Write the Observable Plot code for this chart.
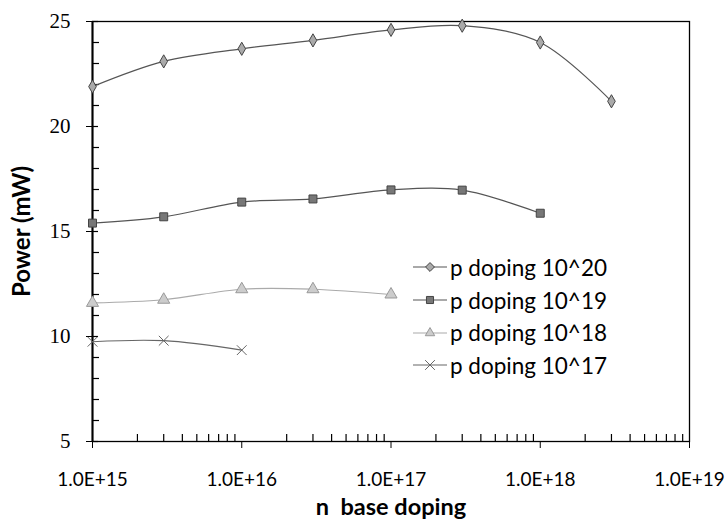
<!DOCTYPE html>
<html><head><meta charset="utf-8">
<script src="https://cdn.jsdelivr.net/npm/d3@7"></script>
<script src="https://cdn.jsdelivr.net/npm/@observablehq/plot@0.6"></script>
<style>
body{margin:0;background:#fff;font-family:Lato,"Open Sans",sans-serif;}
#wrap{position:relative;width:727px;height:528px;}
#legend{position:absolute;left:411px;top:251px;font-family:Lato,sans-serif;font-size:22.5px;color:#000;}
#legend .row{height:32.7px;display:flex;align-items:center;}
#legend svg{margin-right:1px;}
</style></head>
<body><div id="wrap"></div>
<script>
const nDoping = [1e15, 3e15, 1e16, 3e16, 1e17, 3e17, 1e18, 3e18];
const seriesNames = ["p doping 10^20", "p doping 10^19", "p doping 10^18", "p doping 10^17"];
const p20 = [21.9, 23.1, 23.7, 24.1, 24.6, 24.8, 24.0, 21.2];
const p19 = [15.4, 15.7, 16.4, 16.55, 16.98, 16.97, 15.87];
const p18 = [11.6, 11.75, 12.25, 12.25, 12.0];
const p17 = [9.75, 9.8, 9.35];
const xTicks = [1e15, 1e16, 1e17, 1e18, 1e19];
const xTickLabels = ["1.0E+15", "1.0E+16", "1.0E+17", "1.0E+18", "1.0E+19"];
const yTicks = [5, 10, 15, 20, 25];

const styles = [
  {symbol: "diamond", stroke: "#555", fill: "#aaa", mstroke: "#444", r: 4},
  {symbol: "square", stroke: "#555", fill: "#777", mstroke: "#444", r: 4.5},
  {symbol: "triangle", stroke: "#aaa", fill: "#ccc", mstroke: "#999", r: 4.5},
  {symbol: "times", stroke: "#666", fill: "none", mstroke: "#666", r: 4.5}
];
const allValues = [p20, p19, p18, p17];
const rows = [];
allValues.forEach((vals, s) => vals.forEach((v, i) => rows.push({series: seriesNames[s], s, x: nDoping[i], y: v})));

const minorX = [];
for (let k = 0; k < 4; k++) for (let m = 2; m <= 9; m++) minorX.push(xTicks[k] * m);
const minorY = d3.range(6, 25).filter(v => v % 5 !== 0);

const W = 727, H = 528, ML = 92, MR = 38, MT = 21, MB = 87;
const fw = W - ML - MR, fh = H - MT - MB;

const marks = [
  Plot.tickX(minorX, {x: d => d, insetTop: fh - 7, stroke: "#000", strokeWidth: 1.2}),
  Plot.tickY(minorY, {y: d => d, insetRight: fw - 7, stroke: "#000", strokeWidth: 1.2}),
  Plot.tickY(yTicks, {y: d => d, insetRight: fw - 6, stroke: "#000", strokeWidth: 1.2}),
  Plot.axisX({ticks: xTicks, tickFormat: d => xTickLabels[xTicks.indexOf(d)], tickSize: 7, tickPadding: 24, fontSize: 19, label: null, stroke: "#000"}),
  Plot.axisY({ticks: yTicks, tickSize: 6, tickPadding: 16, fontSize: 21, fontFamily: "Liberation Serif, serif", label: null, stroke: "#000"}),
  Plot.frame({stroke: "#000", strokeWidth: 1.3}),
  Plot.ruleX([1e15], {stroke: "#000", strokeWidth: 2}),
  Plot.text(["Power (mW)"], {frameAnchor: "left", textAnchor: "middle", rotate: -90, dx: -70, fontSize: 24, fontWeight: "bold", fill: "#000"}),
  Plot.text(["n  base doping"], {frameAnchor: "bottom", textAnchor: "middle", dy: 73, fontSize: 23.5, fontWeight: "bold", fill: "#000"})
];
styles.forEach((st, s) => {
  const data = rows.filter(d => d.s === s);
  marks.push(Plot.line(data, {x: "x", y: "y", curve: "catmull-rom", stroke: st.stroke, strokeWidth: 1.2}));
  marks.push(Plot.dot(data, {x: "x", y: "y", symbol: () => st.symbol, r: st.r, fill: st.fill, stroke: st.mstroke, strokeWidth: 1}));
});

const chart = Plot.plot({
  width: W, height: H, marginLeft: ML, marginRight: MR, marginTop: MT, marginBottom: MB,
  style: {fontFamily: "Lato, sans-serif", color: "#000", background: "#fff"},
  x: {type: "log", domain: [1e15, 1e19]},
  y: {domain: [5, 25]},
  symbol: {domain: ["diamond", "square", "triangle", "times"], range: ["diamond", "square", "triangle", "times"]},
  marks
});
const wrap = document.getElementById("wrap");
wrap.appendChild(chart);

// legend
const legend = document.createElement("div");
legend.id = "legend";
const symMap = {diamond: d3.symbolDiamond2, square: d3.symbolSquare2, triangle: d3.symbolTriangle2, times: d3.symbolTimes};
seriesNames.forEach((name, s) => {
  const st = styles[s];
  const row = document.createElement("div");
  row.className = "row";
  const sw = d3.create("svg").attr("width", 38).attr("height", 20);
  sw.append("line").attr("x1", 2).attr("x2", 36).attr("y1", 10).attr("y2", 10).attr("stroke", st.stroke).attr("stroke-width", 1.2);
  const size = Math.PI * st.r * st.r;
  sw.append("path").attr("transform", "translate(19,10)")
    .attr("d", d3.symbol(symMap[st.symbol], size)())
    .attr("fill", st.fill).attr("stroke", st.mstroke).attr("stroke-width", 1);
  row.appendChild(sw.node());
  const t = document.createElement("span");
  t.textContent = name;
  row.appendChild(t);
  legend.appendChild(row);
});
wrap.appendChild(legend);
</script></body></html>
